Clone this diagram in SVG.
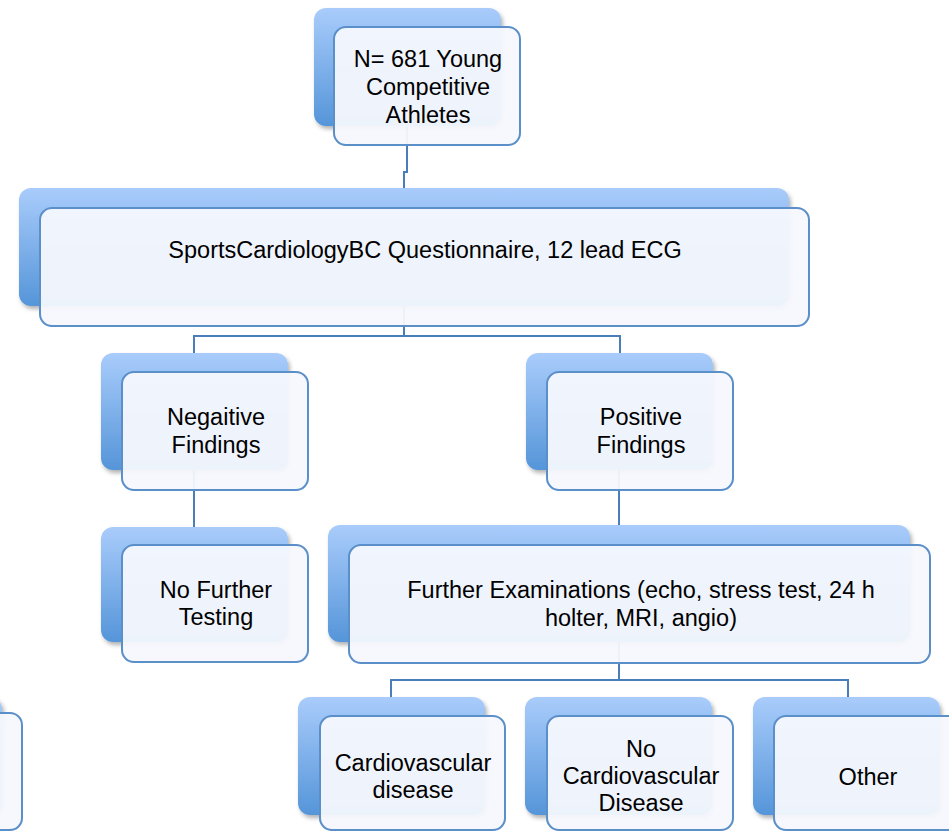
<svg xmlns="http://www.w3.org/2000/svg" width="949" height="832" viewBox="0 0 949 832">
<defs>
<linearGradient id="bg" x1="0" y1="0" x2="0" y2="1">
<stop offset="0" stop-color="#a9ccfb"/>
<stop offset="1" stop-color="#5595d9"/>
</linearGradient>
<filter id="sh" x="-10%" y="-10%" width="120%" height="130%">
<feDropShadow dx="2" dy="3" stdDeviation="2" flood-color="#000" flood-opacity="0.3"/>
</filter>
</defs>
<style>
.back{fill:url(#bg);filter:url(#sh)}
.front{fill:#f5f8fd;fill-opacity:0.95;stroke:#5b8fc9;stroke-width:2}
.conn{fill:none;stroke:#4a7ebb;stroke-width:2}
text{font-family:"Liberation Sans",Arial,sans-serif;font-size:23.5px;fill:#000;text-anchor:middle}
</style>
<rect width="949" height="832" fill="#fff"/>
<g id="connectors">
<path class="conn" d="M407,125 V172 H404 V190"/>
<path class="conn" d="M404,306 V336 M194,353 V336 H620 V353"/>
<path class="conn" d="M194,470 V527"/>
<path class="conn" d="M619,470 V525"/>
<path class="conn" d="M619,642 V680 M391,697 V680 H848 V697"/>
</g>
<g id="n-top">
<rect class="back" x="314" y="8" width="187" height="118" rx="12"/>
<rect class="front" x="334" y="27" width="186" height="118" rx="12"/>
<text x="428" y="67">N= 681 Young</text>
<text x="428" y="95">Competitive</text>
<text x="428" y="123">Athletes</text>
</g>
<g id="n-screen">
<rect class="back" x="19" y="188" width="770" height="118" rx="12"/>
<rect class="front" x="40" y="208" width="769" height="118" rx="12"/>
<text x="425" y="258">SportsCardiologyBC Questionnaire, 12 lead ECG</text>
</g>
<g id="n-neg">
<rect class="back" x="101" y="353" width="187" height="117" rx="12"/>
<rect class="front" x="122" y="372" width="186" height="118" rx="12"/>
<text x="216" y="425">Negaitive</text>
<text x="216" y="453">Findings</text>
</g>
<g id="n-pos">
<rect class="back" x="526" y="353" width="187" height="117" rx="12"/>
<rect class="front" x="547" y="372" width="186" height="118" rx="12"/>
<text x="641" y="425">Positive</text>
<text x="641" y="453">Findings</text>
</g>
<g id="n-nofurther">
<rect class="back" x="101" y="527" width="187" height="115" rx="12"/>
<rect class="front" x="122" y="545" width="186" height="117" rx="12"/>
<text x="216" y="598">No Further</text>
<text x="216" y="625">Testing</text>
</g>
<g id="n-further">
<rect class="back" x="328" y="525" width="582" height="117" rx="12"/>
<rect class="front" x="349" y="545" width="581" height="118" rx="12"/>
<text x="641" y="598">Further Examinations (echo, stress test, 24 h</text>
<text x="641" y="626">holter, MRI, angio)</text>
</g>
<g id="n-left">
<rect class="back" x="-185" y="697" width="187" height="118" rx="12"/>
<rect class="front" x="-165" y="713" width="187" height="117" rx="12"/>
</g>
<g id="n-cvd">
<rect class="back" x="298" y="697" width="187" height="118" rx="12"/>
<rect class="front" x="320" y="716" width="185" height="114" rx="12"/>
<text x="413" y="771">Cardiovascular</text>
<text x="413" y="798">disease</text>
</g>
<g id="n-nocvd">
<rect class="back" x="525" y="697" width="187" height="118" rx="12"/>
<rect class="front" x="547" y="716" width="186" height="114" rx="12"/>
<text x="641" y="757">No</text>
<text x="641" y="784">Cardiovascular</text>
<text x="641" y="811">Disease</text>
</g>
<g id="n-other">
<rect class="back" x="753" y="697" width="187" height="118" rx="12"/>
<rect class="front" x="774" y="716" width="186" height="114" rx="12"/>
<text x="868" y="785">Other</text>
</g>
</svg>
